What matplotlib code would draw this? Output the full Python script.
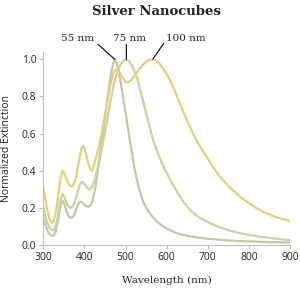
import matplotlib
matplotlib.use("Agg")
import matplotlib.pyplot as plt

# ---- data ----
wl_100 = [300, 305, 310, 315, 320, 325, 330, 335, 340, 344, 347, 351, 355, 360, 365, 370, 375,
          380, 385, 390, 394, 397, 400, 405, 410, 415, 418, 422, 428, 435, 442, 450, 458, 465,
          470, 474, 478, 482, 487, 492, 497, 502, 507, 513, 520, 530, 540, 550, 558, 566, 574,
          582, 590, 600, 610, 620, 630, 640, 650, 660, 670, 680, 690, 700, 715, 730, 745, 760,
          775, 790, 805, 820, 835, 850, 865, 880, 900]
ext_100 = [0.31, 0.25, 0.19, 0.14, 0.12, 0.13, 0.17, 0.24, 0.33, 0.38, 0.40, 0.39, 0.365, 0.335,
           0.32, 0.315, 0.33, 0.37, 0.43, 0.49, 0.525, 0.535, 0.525, 0.48, 0.435, 0.405, 0.40,
           0.42, 0.47, 0.53, 0.60, 0.70, 0.80, 0.88, 0.92, 0.94, 0.945, 0.94, 0.925, 0.905, 0.888,
           0.876, 0.877, 0.887, 0.905, 0.938, 0.965, 0.987, 0.998, 1.0, 0.995, 0.978, 0.955, 0.92,
           0.88, 0.83, 0.775, 0.72, 0.67, 0.62, 0.575, 0.535, 0.50, 0.465, 0.413, 0.368, 0.33,
           0.297, 0.268, 0.242, 0.218, 0.197, 0.179, 0.164, 0.151, 0.141, 0.13]

wl_75 = [300, 305, 310, 315, 320, 325, 330, 335, 340, 344, 347, 351, 355, 360, 365, 370, 375,
         380, 385, 390, 394, 398, 403, 408, 413, 418, 425, 432, 440, 448, 456, 464, 472, 480,
         487, 494, 502, 509, 516, 524, 532, 540, 548, 556, 564, 571, 578, 585, 592, 600, 608,
         616, 624, 632, 640, 650, 660, 670, 681, 690, 700, 715, 730, 750, 775, 800, 825, 850,
         875, 900]
ext_75 = [0.21, 0.16, 0.12, 0.095, 0.082, 0.08, 0.10, 0.15, 0.22, 0.26, 0.275, 0.26, 0.235, 0.212,
          0.20, 0.205, 0.22, 0.255, 0.295, 0.33, 0.34, 0.335, 0.32, 0.305, 0.30, 0.31, 0.35,
          0.41, 0.49, 0.58, 0.68, 0.78, 0.87, 0.93, 0.97, 0.99, 1.0, 0.99, 0.965, 0.925, 0.87,
          0.80, 0.73, 0.66, 0.59, 0.54, 0.50, 0.46, 0.425, 0.39, 0.355, 0.322, 0.292, 0.262,
          0.236, 0.207, 0.183, 0.164, 0.147, 0.135, 0.124, 0.108, 0.095, 0.08, 0.066, 0.055,
          0.046, 0.039, 0.032, 0.027]

wl_55 = [300, 305, 310, 315, 320, 325, 330, 335, 340, 344, 347, 351, 355, 360, 365, 370, 375,
         380, 385, 389, 393, 398, 404, 410, 415, 420, 426, 432, 438, 445, 452, 458, 463, 467,
         471, 474, 477, 481, 486, 491, 496, 501, 506, 511, 516, 521, 527, 534, 543, 552, 560,
         567, 580, 590, 600, 620, 640, 660, 681, 700, 750, 800, 850, 900]
ext_55 = [0.15, 0.11, 0.08, 0.06, 0.052, 0.05, 0.07, 0.12, 0.185, 0.225, 0.24, 0.225, 0.195,
          0.163, 0.148, 0.148, 0.16, 0.19, 0.222, 0.235, 0.232, 0.222, 0.21, 0.205, 0.215, 0.24,
          0.30, 0.39, 0.49, 0.60, 0.72, 0.82, 0.90, 0.95, 0.985, 1.0, 0.99, 0.96, 0.905, 0.84,
          0.77, 0.70, 0.63, 0.56, 0.49, 0.42, 0.36, 0.295, 0.234, 0.195, 0.168, 0.148, 0.12,
          0.103, 0.089, 0.068, 0.055, 0.046, 0.039, 0.034, 0.025, 0.02, 0.016, 0.014]

labels = ["55 nm", "75 nm", "100 nm"]
peak_wl = [474, 502, 566]
x_ticks = [300, 400, 500, 600, 700, 800, 900]
y_ticks = [0.0, 0.2, 0.4, 0.6, 0.8, 1.0]

c55 = "#c4c8a2"
c75 = "#cfd0a0"
c100 = "#e5cf7a"

fig = plt.figure(figsize=(3, 3), dpi=100)
ax = fig.add_axes([0.144, 0.183, 0.823, 0.644])

ax.plot(wl_55, ext_55, color=c55, lw=1.6, solid_joinstyle="round")
ax.plot(wl_75, ext_75, color=c75, lw=1.6, solid_joinstyle="round")
ax.plot(wl_100, ext_100, color=c100, lw=1.6, solid_joinstyle="round")

ax.set_xlim(300, 900)
ax.set_ylim(0, 1.04)
ax.set_xticks(x_ticks)
ax.set_yticks(y_ticks)
ax.set_yticklabels([f"{v:.1f}" for v in y_ticks])
for s in ["top", "right"]:
    ax.spines[s].set_visible(False)
for s in ["left", "bottom"]:
    ax.spines[s].set_color("#c0c0c0")
    ax.spines[s].set_linewidth(0.8)
ax.tick_params(axis="both", colors="#c0c0c0", labelcolor="#222222", labelsize=7.5,
               length=3, width=0.8, pad=2)
for t in ax.get_xticklabels() + ax.get_yticklabels():
    t.set_fontfamily("Open Sans")

ax.set_xlabel("Wavelength (nm)", family="DejaVu Serif", fontsize=7.5, color="#222222",
              labelpad=9)
ax.set_ylabel("Normalized Extinction", family="Open Sans", fontsize=7.5, color="#222222")
ax.yaxis.set_label_coords(-0.125, 0.5)

fig.text(0.52, 0.962, "Silver Nanocubes", family="DejaVu Serif", fontweight="bold",
         fontsize=9.5, ha="center", va="center", color="#222222")

# annotations with leader lines
text_pos = [(384, 1.114), (510, 1.114), (646, 1.114)]
line_start = [(433, 1.081), (502, 1.081), (593, 1.086)]
for lab, pk, tp, ls in zip(labels, peak_wl, text_pos, line_start):
    ax.annotate("", xy=(pk, 1.0), xytext=ls, annotation_clip=False,
                arrowprops=dict(arrowstyle="-", lw=0.8, color="black",
                                shrinkA=0, shrinkB=0))
    ax.text(tp[0], tp[1], lab, family="DejaVu Serif", fontsize=7.5, ha="center",
            va="center", color="#222222", clip_on=False)

fig.savefig("out.png", dpi=100)
